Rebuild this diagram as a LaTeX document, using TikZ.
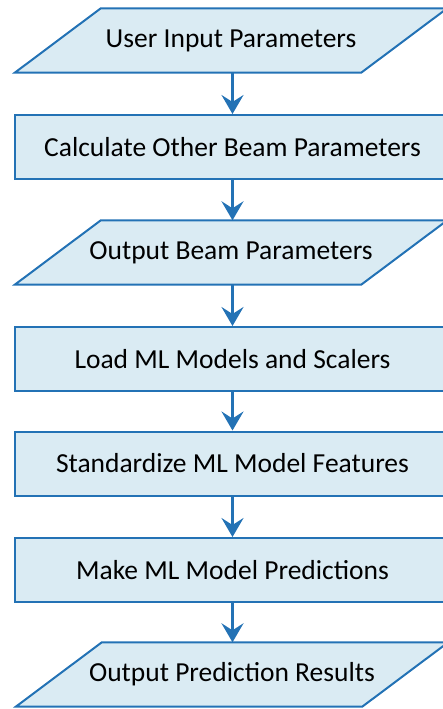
\documentclass[tikz,border=0pt]{standalone}
\usepackage{fontspec}
\setmainfont{Carlito}
\usetikzlibrary{arrows.meta,backgrounds}
\definecolor{boxblue}{HTML}{2372B5}
\definecolor{boxfill}{HTML}{DAEBF3}
\tikzset{
  txt/.style={font=\fontsize{27.5}{31}\selectfont},
  procbox/.style={txt, draw=boxblue, fill=boxfill, line width=2pt, rectangle,
    minimum width=435pt, minimum height=64pt, inner sep=0pt},
  iobox/.style={txt, rectangle, minimum width=432pt, minimum height=64pt, inner sep=0pt},
  ioshape/.style={draw=boxblue, fill=boxfill, line width=2pt, line join=miter},
  flow/.style={draw=boxblue, line width=2.5pt,
    -{Stealth[length=19pt, width=22pt, inset=7pt]}}
}
\newcommand{\iopara}[1]{%
  \begin{scope}[on background layer]
  \draw[ioshape] (#1.south west) -- ([xshift=-86pt]#1.south east) -- (#1.north east)
    -- ([xshift=86pt]#1.north west) -- cycle;
  \end{scope}}
\begin{document}
\begin{tikzpicture}[x=1pt,y=-1pt]
\useasboundingbox (0,0) rectangle (442,709);
\node[iobox]   (n1) at (231,40.5)   {User Input Parameters};
\node[procbox] (n2) at (232.5,147)  {Calculate Other Beam Parameters};
\node[iobox]   (n3) at (231,252.5)  {Output Beam Parameters};
\node[procbox] (n4) at (232.5,359)  {Load ML Models and Scalers};
\node[procbox] (n5) at (232.5,463.5){Standardize ML Model Features};
\node[procbox] (n6) at (232.5,570)  {Make ML Model Predictions};
\node[iobox]   (n7) at (232,674.5)  {Output Prediction Results};
\iopara{n1}\iopara{n3}\iopara{n7}
\foreach \a/\b in {n1/n2,n2/n3,n3/n4,n4/n5,n5/n6,n6/n7}
  \draw[flow] (\a.south -| 232.5,0) -- (\b.north -| 232.5,0);
\end{tikzpicture}
\end{document}
